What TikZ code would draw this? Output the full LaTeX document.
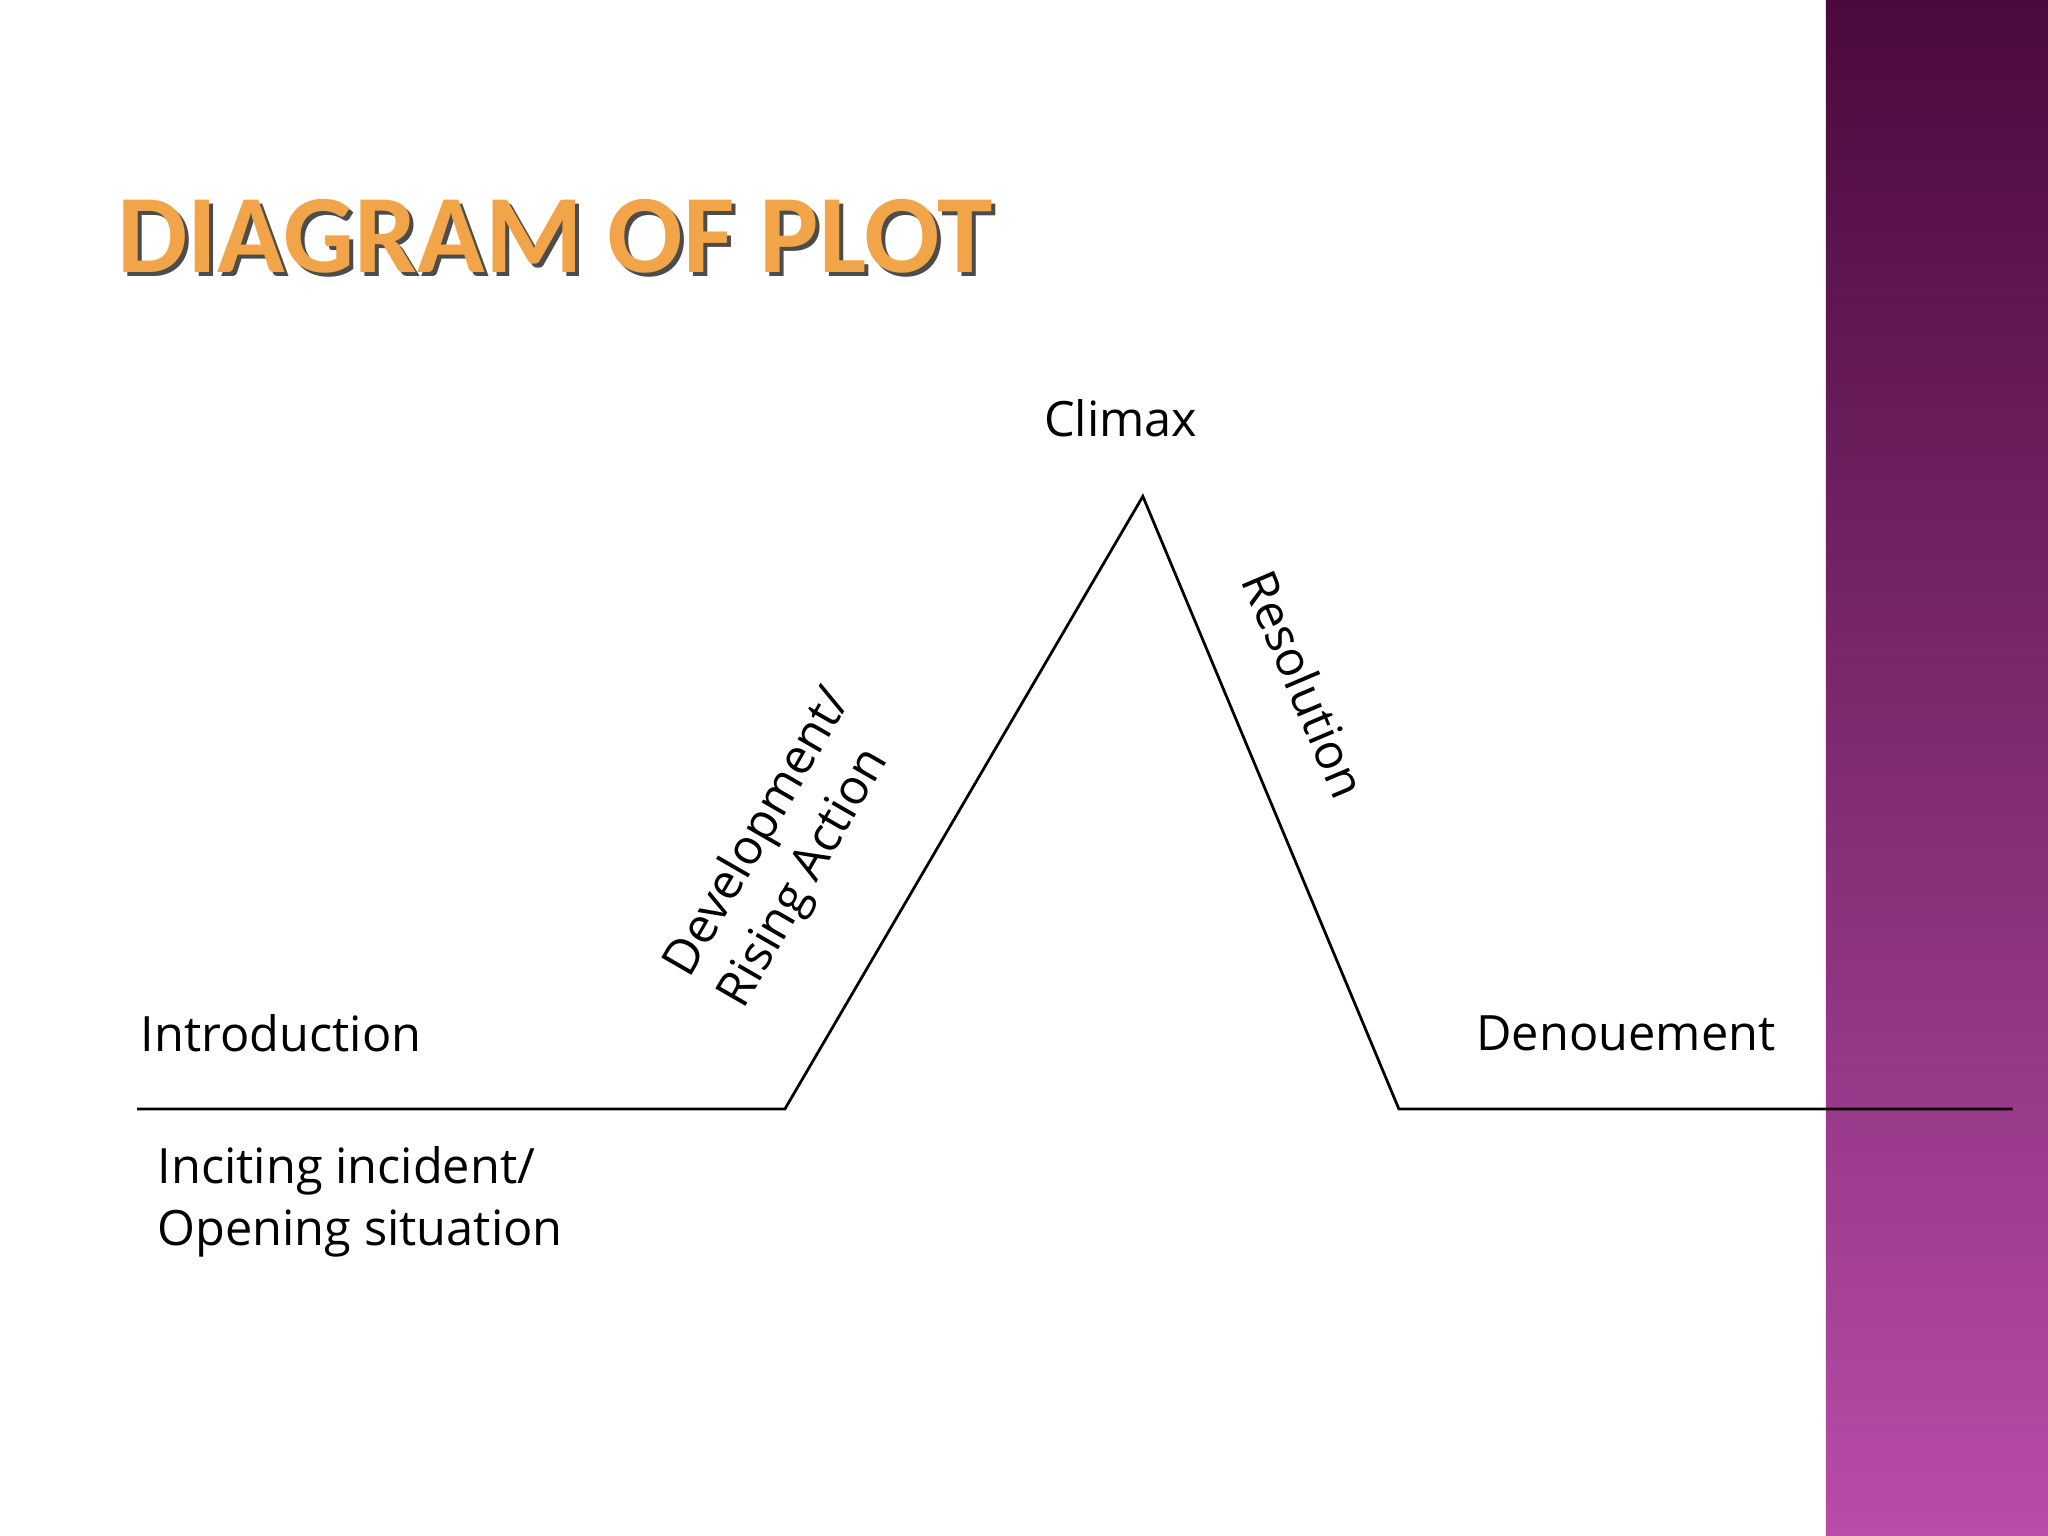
\documentclass[tikz,border=0pt]{standalone}
\usepackage{fontspec}
\setmainfont{Open Sans}
\newfontfamily\titlefont{Carlito}
\usetikzlibrary{calc}
\definecolor{bandtop}{HTML}{4A0A3C}
\definecolor{bandbot}{HTML}{B84CA8}
\definecolor{titleorange}{HTML}{F2A548}
\tikzset{lbl/.style={font=\fontsize{10.6pt}{13.5pt}\selectfont, inner sep=0pt},
  plotline/.style={draw=black, line width=0.6pt}}
\begin{document}
\begin{tikzpicture}[x=0.01cm,y=-0.01cm]
\useasboundingbox (0,0) rectangle (1568,1176);
\fill[white] (0,0) rectangle (1568,1176);
\shade[top color=bandtop, bottom color=bandbot] (1398,0) rectangle (1568,1176);
% title
\node[anchor=west, inner sep=0pt, text=black!70, font=\titlefont\bfseries\fontsize{24.3pt}{30pt}\selectfont] (tshadow) at (92,184) {DIAGRAM OF PLOT};
\node[anchor=west, inner sep=0pt, text=titleorange, font=\titlefont\bfseries\fontsize{24.3pt}{30pt}\selectfont] (title) at (89,181) {DIAGRAM OF PLOT};
% plot line
\coordinate (s) at (105,849);
\coordinate (a) at (601,849);
\coordinate (p) at (875,380);
\coordinate (b) at (1071,849);
\coordinate (e) at (1541,849);
\draw[plotline] (s) -- (a) -- (p) -- (b) -- (e);
% labels
\node[lbl] (climax) at (858,320) {Climax};
\node[lbl, anchor=west] (intro) at (107,791) {Introduction};
\node[lbl, anchor=east] (den) at (1360,791) {Denouement};
\node[lbl, anchor=north west, align=left] (inc) at (120,877) {Inciting incident/\\Opening situation};
\node[lbl, rotate=60, align=left] (dev) at (602,650) {Development/\\Rising Action};
\node[lbl, rotate=-67] (res) at (999,524) {Resolution};
\end{tikzpicture}
\end{document}
